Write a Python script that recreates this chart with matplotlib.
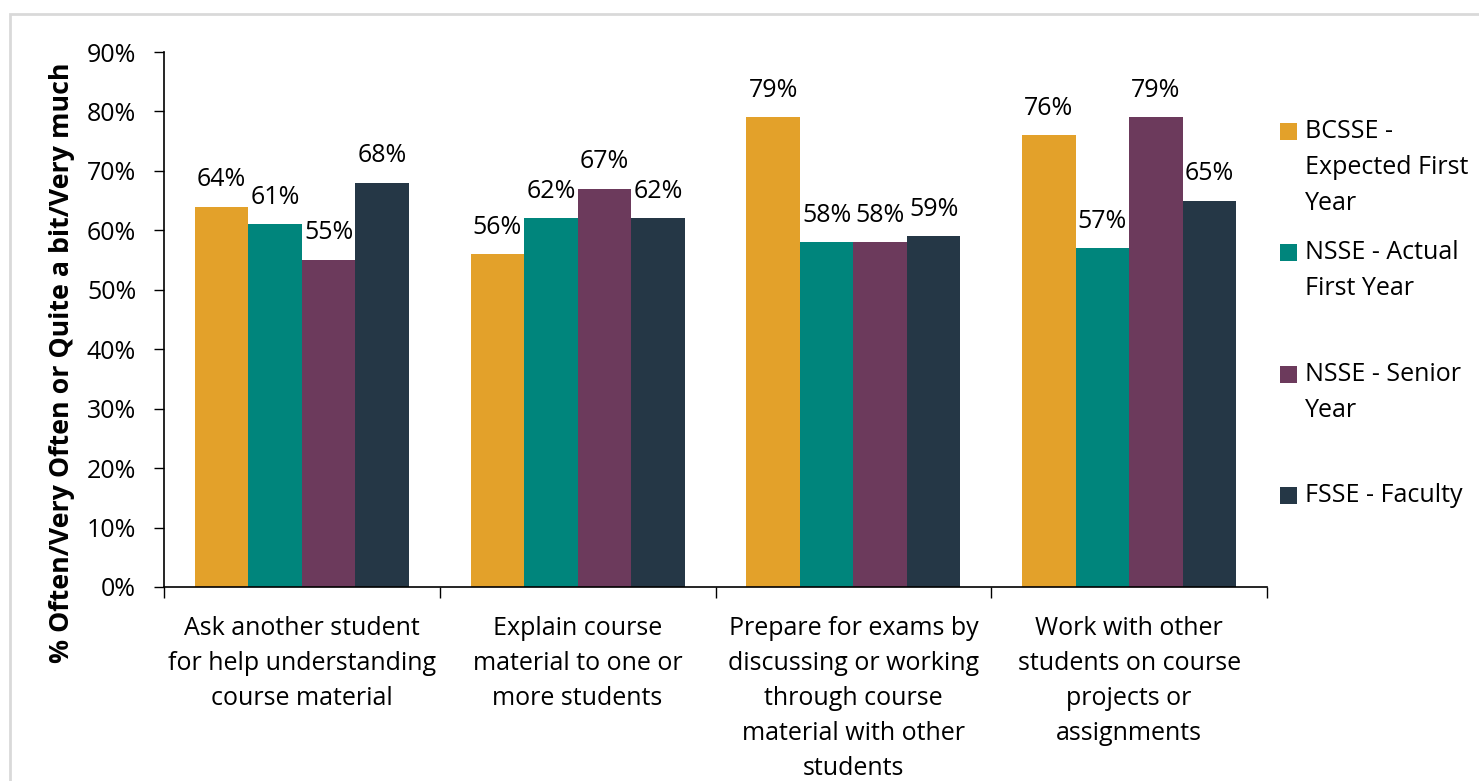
import matplotlib
matplotlib.use("Agg")
import matplotlib.pyplot as plt
from matplotlib.patches import Rectangle
from matplotlib.ticker import FixedLocator, PercentFormatter
import numpy as np

categories = [
    "Ask another student\nfor help understanding\ncourse material",
    "Explain course\nmaterial to one or\nmore students",
    "Prepare for exams by\ndiscussing or working\nthrough course\nmaterial with other\nstudents",
    "Work with other\nstudents on course\nprojects or\nassignments",
]
series_names = [
    "BCSSE -\nExpected First\nYear",
    "NSSE - Actual\nFirst Year",
    "NSSE - Senior\nYear",
    "FSSE - Faculty",
]
bcsse_expected = [64, 56, 79, 76]
nsse_first_year = [61, 62, 58, 57]
nsse_senior = [55, 67, 58, 79]
fsse_faculty = [68, 62, 59, 65]
series_values = [bcsse_expected, nsse_first_year, nsse_senior, fsse_faculty]
colors = ["#E3A12A", "#00857C", "#6C3A5C", "#253746"]
ylabel = "% Often/Very Often or Quite a bit/Very much"

plt.rcParams["font.family"] = ["Open Sans", "DejaVu Sans"]
FS = 18

W, H = 1479, 781
fig = plt.figure(figsize=(W / 100, H / 100), dpi=100)

# light frame around the chart area
fig.patches.append(Rectangle((10 / W, -0.05), 1.2, (H - 14) / H + 0.05,
                             transform=fig.transFigure, fill=False,
                             edgecolor="#D9D9D9", linewidth=2))

ax_left, ax_right, ax_top, ax_bottom = 164, 1267, 52, 587
ax = fig.add_axes([ax_left / W, (H - ax_bottom) / H,
                   (ax_right - ax_left) / W, (ax_bottom - ax_top) / H])

n = len(series_values)
width = 0.194
x = np.arange(len(categories))
for i, (vals, col) in enumerate(zip(series_values, colors)):
    pos = x + (i - (n - 1) / 2) * width
    bars = ax.bar(pos, vals, width=width, color=col, linewidth=0)
    for b, v in zip(bars, vals):
        ax.annotate(f"{v}%", (b.get_x() + b.get_width() / 2, v),
                    xytext=(0, 10.5), textcoords="offset points",
                    ha="center", va="bottom", fontsize=FS, color="black")

ax.set_xlim(-0.5, len(categories) - 0.5)
ax.set_ylim(0, 90)
ax.yaxis.set_major_locator(FixedLocator(np.arange(0, 91, 10)))
ax.yaxis.set_major_formatter(PercentFormatter(decimals=0))
ax.tick_params(axis="y", direction="out", length=7, width=1, labelsize=FS,
               pad=13, colors="black")

# category boundary ticks on the x axis, labels centred between them
ax.set_xticks(np.arange(-0.5, len(categories), 1.0))
ax.set_xticklabels([])
ax.tick_params(axis="x", direction="out", length=8, width=1)
ax.set_xticks(x, minor=True)
ax.set_xticklabels(categories, minor=True, fontsize=FS, linespacing=1.52)
ax.tick_params(axis="x", which="minor", length=0, pad=21)

for s in ["top", "right"]:
    ax.spines[s].set_visible(False)
for s in ["left", "bottom"]:
    ax.spines[s].set_color("black")
    ax.spines[s].set_linewidth(1.2)

fig.text(62 / W, (H - 363) / H, ylabel, rotation=90, ha="center", va="center",
         fontsize=19.3, fontweight="bold")

# legend drawn as squares with wrapped labels beside them
sq = 17
legend_tops = [123, 244, 366, 487]
for name, col, top in zip(series_names, colors, legend_tops):
    fig.patches.append(Rectangle((1280 / W, (H - top - sq) / H), sq / W, sq / H,
                                 transform=fig.transFigure, facecolor=col,
                                 edgecolor="none"))
    for k, line in enumerate(name.split("\n")):
        fig.text(1305 / W, (H - top - sq / 2 - 36 * k) / H, line,
                 ha="left", va="center", fontsize=FS)

fig.savefig("out.png", dpi=100, facecolor="white")
